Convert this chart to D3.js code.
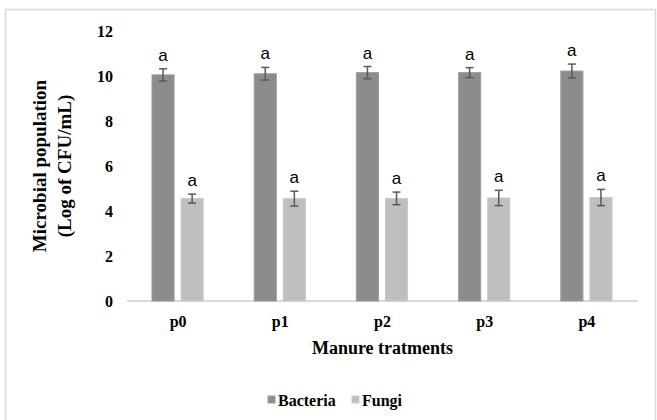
<!DOCTYPE html>
<head>
  <meta charset="utf-8">
  <script src="https://d3js.org/d3.v7.min.js"></script>
  <style type="text/css">
    body { margin:0; background:#fff; }
    .tick text { font-family: "Liberation Serif", serif; font-weight: bold; font-size: 16px; fill: #000; }
    .bar-b { fill: #8c8c8c; stroke: #9c9c9c; stroke-width: 1; }
    .bar-f { fill: #bfbfbf; stroke: #c9c9c9; stroke-width: 1; }
    .err { stroke: #595959; stroke-width: 1.5; fill: none; }
    .sig { font-family: "Liberation Sans", sans-serif; font-size: 17px; fill: #000; }
    .ttl { font-family: "Liberation Serif", serif; font-weight: bold; fill: #000; }
  </style>
</head>

<body>
  <script>
  var categories = ["p0", "p1", "p2", "p3", "p4"];
  var seriesNames = ["Bacteria", "Fungi"];
  var bacteria = [10.05, 10.1, 10.15, 10.15, 10.22];
  var bacteriaErr = [0.27, 0.28, 0.27, 0.22, 0.31];
  var fungi = [4.55, 4.55, 4.56, 4.58, 4.6];
  var fungiErr = [0.2, 0.33, 0.28, 0.34, 0.36];
  var sigB = ["a", "a", "a", "a", "a"];
  var sigF = ["a", "a", "a", "a", "a"];
  var yTicks = [0, 2, 4, 6, 8, 10, 12];

  var W = 657, H = 420;
  var margin = {top: 31, right: 19, bottom: 119, left: 127};
  var width = W - margin.left - margin.right,
      height = H - margin.top - margin.bottom;

  var svg = d3.select("body").append("svg")
    .attr("width", W).attr("height", H);

  // outer frame
  svg.append("rect")
    .attr("x", 5.5).attr("y", 9.5).attr("width", 650).attr("height", 420)
    .attr("fill", "none").attr("stroke", "#d9d9d9").attr("stroke-width", 1.5);

  var g = svg.append("g")
    .attr("transform", "translate(" + margin.left + "," + margin.top + ")");

  var x0 = d3.scaleBand().domain(categories).range([0, width]).padding(0);
  var x1 = d3.scaleBand().domain(seriesNames).range([25, x0.bandwidth() - 26]).paddingInner(0.24);
  var y = d3.scaleLinear().domain([0, 12]).range([height, 0]);

  // y axis (labels only)
  var yAxis = g.append("g")
    .call(d3.axisLeft(y).tickValues(yTicks).tickSize(0).tickPadding(14));
  yAxis.select(".domain").remove();

  // baseline
  g.append("line")
    .attr("x1", 0).attr("x2", width)
    .attr("y1", y(0)).attr("y2", y(0))
    .attr("stroke", "#d9d9d9").attr("stroke-width", 2);

  // x axis labels
  var xAxis = g.append("g")
    .attr("transform", "translate(0," + height + ")")
    .call(d3.axisBottom(x0).tickSize(0).tickPadding(15));
  xAxis.select(".domain").remove();

  var series = [
    {name: "Bacteria", vals: bacteria, err: bacteriaErr, sig: sigB, cls: "bar-b"},
    {name: "Fungi", vals: fungi, err: fungiErr, sig: sigF, cls: "bar-f"}
  ];

  series.forEach(function(s) {
    var gs = g.append("g");
    categories.forEach(function(c, i) {
      var bx = x0(c) + x1(s.name);
      var bw = x1.bandwidth();
      var cx = bx + bw / 2;
      gs.append("rect")
        .attr("class", s.cls)
        .attr("x", bx).attr("y", y(s.vals[i]))
        .attr("width", bw).attr("height", y(0) - y(s.vals[i]));
      var top = y(s.vals[i] + s.err[i]), bot = y(s.vals[i] - s.err[i]);
      gs.append("line").attr("class", "err")
        .attr("x1", cx).attr("x2", cx).attr("y1", top).attr("y2", bot);
      gs.append("line").attr("class", "err")
        .attr("x1", cx - 4).attr("x2", cx + 4).attr("y1", top).attr("y2", top);
      gs.append("line").attr("class", "err")
        .attr("x1", cx - 4).attr("x2", cx + 4).attr("y1", bot).attr("y2", bot);
      gs.append("text").attr("class", "sig")
        .attr("x", cx).attr("y", top - 8)
        .attr("text-anchor", "middle")
        .text(s.sig[i]);
    });
  });

  // axis titles
  g.append("text").attr("class", "ttl")
    .attr("x", width / 2).attr("y", height + 53)
    .attr("text-anchor", "middle").style("font-size", "18px")
    .text("Manure tratments");

  var yt = svg.append("text").attr("class", "ttl")
    .attr("transform", "translate(0," + (margin.top + height / 2) + ") rotate(-90)")
    .attr("text-anchor", "middle").style("font-size", "19px");
  yt.append("tspan").attr("x", 0).attr("y", 46).text("Microbial population");
  yt.append("tspan").attr("x", 0).attr("y", 71).text("(Log of CFU/mL)");

  // legend
  var legend = svg.append("g").attr("transform", "translate(0,400)");
  var legX = [268, 352];
  var legCls = ["bar-b", "bar-f"];
  seriesNames.forEach(function(n, i) {
    legend.append("rect").attr("class", legCls[i])
      .attr("x", legX[i]).attr("y", -4).attr("width", 7).attr("height", 7)
      .attr("stroke", "none");
    legend.append("text").attr("class", "ttl")
      .attr("x", legX[i] + 10).attr("y", 6)
      .style("font-size", "16px")
      .text(n);
  });
  </script>
</body>
